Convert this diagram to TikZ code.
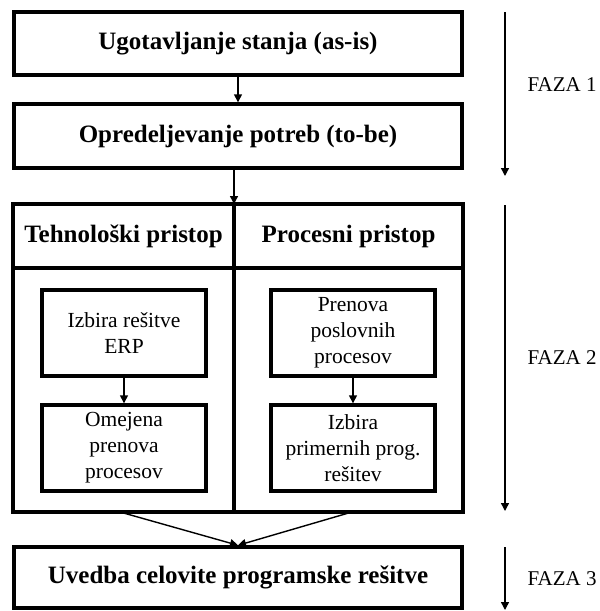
\documentclass[tikz,border=0pt]{standalone}
\usepackage{fontspec}
\setmainfont{Liberation Serif}
\usetikzlibrary{arrows.meta}
\tikzset{
  box/.style={draw, line width=3.4pt, minimum width=448pt, align=center,
    font=\fontsize{25}{29}\selectfont\bfseries},
  inbox/.style={draw, line width=3.4pt, minimum width=164pt, minimum height=86pt,
    align=center, inner sep=2pt, font=\fontsize{21.5}{26}\selectfont},
  head/.style={font=\fontsize{25}{29}\selectfont\bfseries},
  faza/.style={anchor=west, font=\fontsize{21}{25}\selectfont},
  arr/.style={-{Triangle[width=8pt,length=8pt]}, line width=1.4pt},
}
\begin{document}
\begin{tikzpicture}[x=1pt,y=-1pt]
  \useasboundingbox (0,0) rectangle (600,611);
  \node [box, minimum height=63pt] (ugot) at (238,43.5) {Ugotavljanje stanja (as-is)};
  \node [box, minimum height=64pt] (opred) at (238,136) {Opredeljevanje potreb (to-be)};
  \draw [arr] (ugot) -- (opred);

  \node [draw, line width=3.4pt, minimum width=450pt, minimum height=308pt] (outer) at (238,358) {};
  \draw [line width=3.4pt] (outer.west |- 0,268) -- (outer.east |- 0,268);
  \draw [line width=3.4pt] ([xshift=-4pt]outer.north) -- ([xshift=-4pt]outer.south);
  \coordinate (split) at (234,204);
  \draw [arr] (split |- opred.south) -- (split);
  \node [head] (tehno) at (123.5,236) {Tehnološki pristop};
  \node [head] (proces) at (348.5,236) {Procesni pristop};

  \node [inbox] (izbira) at (124,333) {Izbira rešitve\\ERP};
  \node [inbox] (omejena) at (124,448) {Omejena\\prenova\\procesov};
  \draw [arr] (izbira) -- (omejena);
  \node [inbox] (prenova) at (353,333) {Prenova\\poslovnih\\procesov};
  \node [inbox] (primerni) at (353,448) {Izbira\\primernih prog.\\rešitev};
  \draw [arr] (prenova) -- (primerni);

  \node [box, minimum height=61pt] (uvedba) at (238,577.5) {Uvedba celovite programske rešitve};
  \coordinate (c1) at (120,512);
  \coordinate (c2) at (352,512);
  \draw [arr] (c1) -- (uvedba.north);
  \draw [arr] (c2) -- (uvedba.north);

  \coordinate (f1s) at (505,12);  \coordinate (f1e) at (505,176);
  \coordinate (f2s) at (505,205); \coordinate (f2e) at (505,511);
  \coordinate (f3s) at (505,547); \coordinate (f3e) at (505,610);
  \draw [arr] (f1s) -- (f1e);
  \draw [arr] (f2s) -- (f2e);
  \draw [arr] (f3s) -- (f3e);
  \node [faza] (faza1) at (524,85) {FAZA 1};
  \node [faza] (faza2) at (524,358) {FAZA 2};
  \node [faza] (faza3) at (524,579) {FAZA 3};
\end{tikzpicture}
\end{document}
